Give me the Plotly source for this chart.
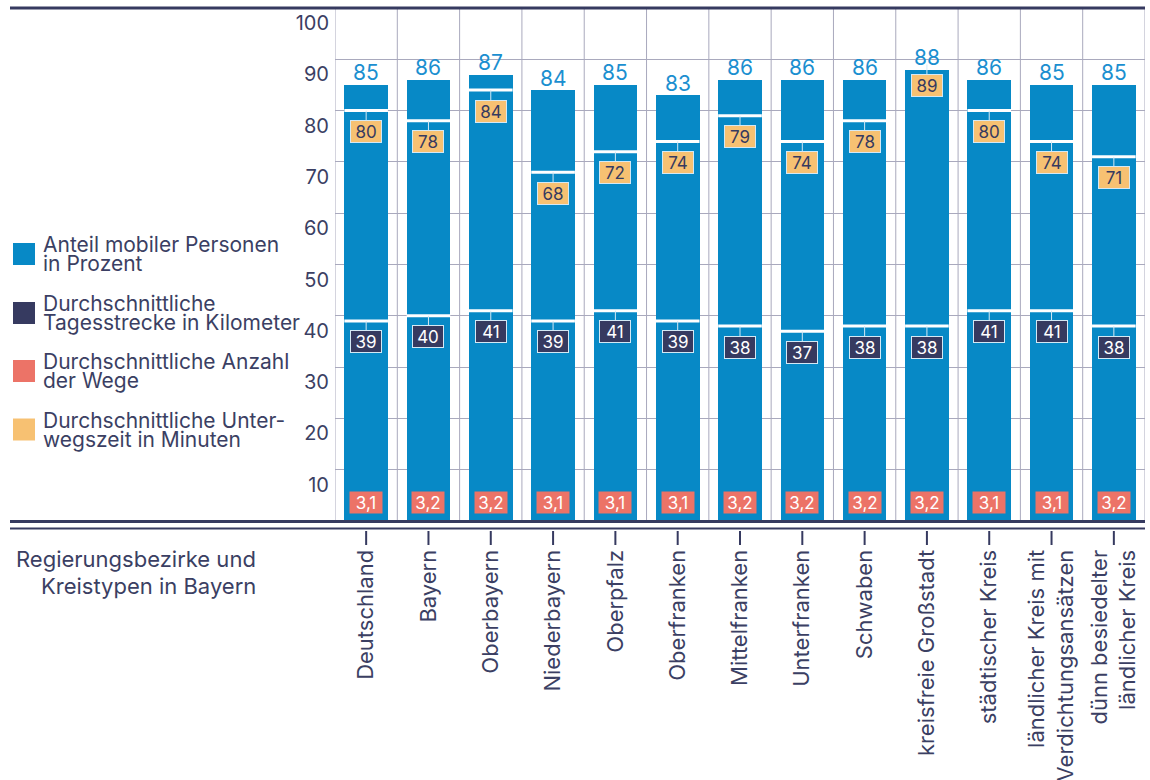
import plotly.graph_objects as go

# ---- data -------------------------------------------------------------
categories = [
    "Deutschland", "Bayern", "Oberbayern", "Niederbayern", "Oberpfalz",
    "Oberfranken", "Mittelfranken", "Unterfranken", "Schwaben",
    "kreisfreie Großstadt", "städtischer Kreis",
    "ländlicher Kreis mit<br>Verdichtungsansätzen",
    "dünn besiedelter<br>ländlicher Kreis",
]
mobile_share = [85, 86, 87, 84, 85, 83, 86, 86, 86, 88, 86, 85, 85]
daily_km = [39, 40, 41, 39, 41, 39, 38, 37, 38, 38, 41, 41, 38]
trips_per_day = [3.1, 3.2, 3.2, 3.1, 3.1, 3.1, 3.2, 3.2, 3.2, 3.2, 3.1, 3.1, 3.2]
travel_minutes = [80, 78, 84, 68, 72, 74, 79, 74, 78, 89, 80, 74, 71]
y_ticks = [10, 20, 30, 40, 50, 60, 70, 80, 90, 100]

legend_entries = [
    ("Anteil mobiler Personen", "in Prozent"),
    ("Durchschnittliche", "Tagesstrecke in Kilometer"),
    ("Durchschnittliche Anzahl", "der Wege"),
    ("Durchschnittliche Unter-", "wegszeit in Minuten"),
]
axis_title = ("Regierungsbezirke und", "Kreistypen in Bayern")

# ---- style ------------------------------------------------------------
FONT = "Inter"
BLUE = "#0789c6"
LABEL_BLUE = "#1b8fd0"
NAVY = "#363a60"
SALMON = "#ec7367"
ORANGE = "#f7c172"
TEXT = "#3b3f63"
GRID = "#a9a9bd"
BOX_EDGE = "#d4e9f5"

W, H = 1150, 780
L, R, T, B = 335, 1145, 8, 521          # plot area in pixels

def px_x(px):
    return (px - L) / (R - L)

def px_y(py):
    return (B - py) / (B - T)

n = len(categories)
idx = list(range(n))
legend_colors = [BLUE, NAVY, SALMON, ORANGE]

fig = go.Figure()
fig.add_trace(go.Bar(
    x=idx, y=mobile_share, width=0.7,
    marker=dict(color=BLUE, line=dict(width=0)),
    hoverinfo="skip", showlegend=False,
))

shapes = []
annotations = []

# vertical separators between categories
for k in range(n + 1):
    shapes.append(dict(type="line", xref="x", yref="paper",
                       x0=k - 0.5, x1=k - 0.5, y0=0, y1=1,
                       line=dict(color=GRID, width=1), layer="below"))

# heavy rules at top and the doubled base line
shapes.append(dict(type="line", xref="paper", yref="paper",
                   x0=px_x(10), x1=1, y0=px_y(8), y1=px_y(8),
                   line=dict(color=NAVY, width=3)))
shapes.append(dict(type="line", xref="paper", yref="paper",
                   x0=px_x(10), x1=1, y0=px_y(521.5), y1=px_y(521.5),
                   line=dict(color=NAVY, width=3)))
shapes.append(dict(type="line", xref="paper", yref="paper",
                   x0=px_x(10), x1=1, y0=px_y(528.5), y1=px_y(528.5),
                   line=dict(color=NAVY, width=2)))

for i in idx:
    # category tick
    shapes.append(dict(type="line", xref="x", yref="paper",
                       x0=i, x1=i, y0=px_y(531), y1=px_y(545),
                       line=dict(color=NAVY, width=2)))
    # white markers for km and minutes inside the bar
    for v in (daily_km[i], travel_minutes[i]):
        shapes.append(dict(type="line", xref="x", yref="y",
                           x0=i - 0.35, x1=i + 0.35, y0=v, y1=v,
                           line=dict(color="white", width=3), layer="above"))

    # share of mobile persons above the bar
    annotations.append(dict(x=i, y=mobile_share[i], xref="x", yref="y",
                            text=str(mobile_share[i]), showarrow=False,
                            yshift=12, font=dict(family=FONT, size=21, color=LABEL_BLUE)))

    # km and minutes boxes hanging from their markers
    for v, bg, fg in ((daily_km[i], NAVY, "white"), (travel_minutes[i], ORANGE, NAVY)):
        annotations.append(dict(
            x=i, y=v, xref="x", yref="y", text=str(v),
            showarrow=True, arrowhead=0, arrowwidth=1, arrowcolor=BOX_EDGE,
            ax=0, ay=21, standoff=0,
            bgcolor=bg, bordercolor=BOX_EDGE, borderwidth=1, borderpad=1,
            width=28, height=19, align="center", valign="middle",
            font=dict(family=FONT, size=17, color=fg)))

    # number of trips at the foot of the bar
    annotations.append(dict(
        x=i, y=0, xref="x", yref="y", yshift=19,
        text=f"{trips_per_day[i]:.1f}".replace(".", ","), showarrow=False,
        bgcolor=SALMON, borderpad=1, width=30, height=19,
        align="center", valign="middle",
        font=dict(family=FONT, size=17, color="white")))

# legend on the left
legend_centers = [254, 313, 371, 429.5]
for (line1, line2), col, cy in zip(legend_entries, legend_colors, legend_centers):
    shapes.append(dict(type="rect", xref="paper", yref="paper",
                       x0=px_x(13), x1=px_x(35), y0=px_y(cy - 11), y1=px_y(cy + 11),
                       fillcolor=col, line=dict(width=0)))
    for txt, dy in ((line1, -9.5), (line2, 9.5)):
        annotations.append(dict(x=px_x(42), y=px_y(cy + dy), xref="paper", yref="paper",
                                xanchor="left", yanchor="middle", text=txt,
                                showarrow=False, borderpad=0,
                                font=dict(family=FONT, size=21, color=TEXT)))

# category axis title, right aligned
for txt, cy in zip(axis_title, (559, 586)):
    annotations.append(dict(x=px_x(258), y=px_y(cy), xref="paper", yref="paper",
                            xanchor="right", yanchor="middle", text=txt,
                            showarrow=False,
                            font=dict(family=FONT, size=22, color=TEXT)))

fig.update_layout(
    width=W, height=H,
    margin=dict(l=L, r=W - R, t=T, b=H - B, pad=0, autoexpand=False),
    paper_bgcolor="white", plot_bgcolor="white",
    font=dict(family=FONT, color=TEXT),
    bargap=0, showlegend=False,
    shapes=shapes, annotations=annotations,
    xaxis=dict(range=[-0.5, n - 0.5], tickmode="array", tickvals=idx,
               ticktext=categories, tickangle=-90, ticks="outside", ticklen=19,
               tickcolor="rgba(0,0,0,0)", showgrid=False, zeroline=False,
               showline=False, fixedrange=True, automargin=False,
               tickfont=dict(family=FONT, size=22, color=TEXT)),
    yaxis=dict(range=[0, 100], tickmode="array", tickvals=y_ticks,
               showgrid=True, gridcolor=GRID, gridwidth=1, zeroline=False,
               showline=False, ticks="", ticklabelshift=15, ticklabelstandoff=5,
               fixedrange=True, automargin=False,
               tickfont=dict(family=FONT, size=20, color=TEXT)),
)

fig.write_html("out.html")
